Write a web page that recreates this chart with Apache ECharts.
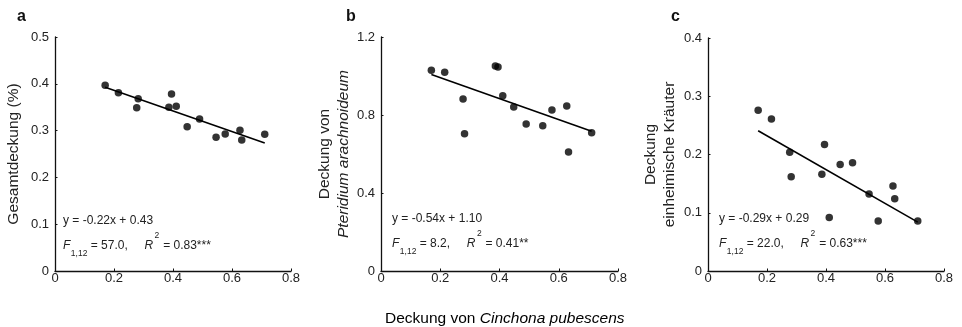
<!DOCTYPE html>
<html>
<head>
<meta charset="utf-8">
<script src="https://cdn.jsdelivr.net/npm/echarts@6/dist/echarts.min.js"></script>
<style>
  html, body { margin: 0; padding: 0; background: #fff; }
  #chart { width: 962px; height: 327px; }
</style>
</head>
<body>
<div id="chart"></div>
<script>
// Deckung von Cinchona pubescens (gleich fuer alle drei Teilbilder)
var cinchona = [0.17, 0.215, 0.277, 0.282, 0.386, 0.395, 0.411, 0.448, 0.49, 0.546, 0.577, 0.627, 0.633, 0.711];

// a: Gesamtdeckung
var gesamt = [0.397, 0.381, 0.349, 0.368, 0.350, 0.378, 0.352, 0.308, 0.325, 0.286, 0.293, 0.301, 0.280, 0.292];
// b: Pteridium arachnoideum
var pteridium = [1.029, 1.019, 0.882, 0.704, 1.051, 1.046, 0.899, 0.841, 0.754, 0.745, 0.826, 0.846, 0.610, 0.709];
// c: einheimische Kraeuter
var kraeuter = [0.276, 0.261, 0.204, 0.162, 0.166, 0.217, 0.092, 0.183, 0.186, 0.132, 0.086, 0.146, 0.124, 0.086];

// Regressionsgeraden (Steigung, Achsenabschnitt)
var fitA = [-0.22, 0.43];
var fitB = [-0.54, 1.10];
var fitC = [-0.29, 0.29];

var xTicks = [0, 0.2, 0.4, 0.6, 0.8];
var yMaxA = 0.5, yStepA = 0.1;
var yMaxB = 1.2, yStepB = 0.4;
var yMaxC = 0.4, yStepC = 0.1;

var FONT = '"Liberation Sans", Arial, sans-serif';
var TXT = '#222';

var measureCtx = document.createElement('canvas').getContext('2d');
function textWidth(str, font) {
    measureCtx.font = font;
    return measureCtx.measureText(str).width;
}

function pairs(xs, ys) {
    return xs.map(function (x, i) { return [x, ys[i]]; });
}

function fitLine(fit) {
    var x0 = Math.min.apply(null, cinchona);
    var x1 = Math.max.apply(null, cinchona);
    return [[x0, fit[0] * x0 + fit[1]], [x1, fit[0] * x1 + fit[1]]];
}

function xAxis(idx) {
    return {
        gridIndex: idx,
        type: 'value',
        min: xTicks[0],
        max: xTicks[xTicks.length - 1],
        interval: 0.2,
        splitLine: { show: false },
        axisLine: { onZero: false, lineStyle: { color: '#111', width: 1.3 } },
        axisTick: { inside: true, length: 2.5, lineStyle: { color: '#111' } },
        axisLabel: { color: TXT, fontSize: 13, fontFamily: FONT, margin: 1 }
    };
}

function yAxis(idx, max, step, name, gap) {
    return {
        gridIndex: idx,
        type: 'value',
        min: 0,
        max: max,
        interval: step,
        name: name,
        nameLocation: 'middle',
        nameGap: gap,
        nameTextStyle: {
            color: TXT, fontSize: 15.5, fontFamily: FONT, lineHeight: 19,
            rich: {
                n: { color: TXT, fontSize: 15.5, fontFamily: FONT, lineHeight: 19 },
                i: { color: TXT, fontSize: 15.5, fontFamily: FONT, fontStyle: 'italic', lineHeight: 19 }
            }
        },
        splitLine: { show: false },
        axisLine: { onZero: false, lineStyle: { color: '#111', width: 1.3 } },
        axisTick: { inside: true, length: 2.5, lineStyle: { color: '#111' } },
        axisLabel: { color: TXT, fontSize: 13, fontFamily: FONT, margin: 6 }
    };
}

function scatter(idx, ys) {
    return {
        type: 'scatter',
        xAxisIndex: idx,
        yAxisIndex: idx,
        data: pairs(cinchona, ys),
        symbolSize: 7.5,
        itemStyle: { color: '#000' },
        silent: true
    };
}

function line(idx, fit) {
    return {
        type: 'line',
        xAxisIndex: idx,
        yAxisIndex: idx,
        data: fitLine(fit),
        showSymbol: false,
        lineStyle: { color: '#000', width: 1.6 },
        silent: true
    };
}

// Gleichung und Statistik als Textstuecke (Index/Exponent einzeln gesetzt)
function stats(left, top, fit, f, r2, stars) {
    var main = '12px ' + FONT;
    var ital = 'italic 12px ' + FONT;
    var small = '8.5px ' + FONT;
    var sign = fit[1] >= 0 ? ' + ' : ' - ';
    var out = [{
        type: 'text', x: left, y: top,
        style: { text: 'y = ' + fit[0].toFixed(2) + 'x' + sign + Math.abs(fit[1]).toFixed(2), font: main, fill: TXT, textVerticalAlign: 'middle' }
    }];
    var y2 = top + 25;
    var pieces = [
        ['F', ital, 0, 0.5],
        ['1,12', small, 8, 0],
        [' = ' + f + ',     ', main, 0, 0],
        ['R', ital, 0, 1.5],
        ['2', small, -10, 0.5],
        [' = ' + r2 + stars, main, 0, 0]
    ];
    var x = left;
    pieces.forEach(function (p) {
        out.push({
            type: 'text', x: x, y: y2 + p[2],
            style: { text: p[0], font: p[1], fill: TXT, textVerticalAlign: 'middle' }
        });
        x += textWidth(p[0], p[1]) + p[3];
    });
    return out;
}

var chart = echarts.init(document.getElementById('chart'));

chart.setOption({
    backgroundColor: '#fff',
    animation: false,
    grid: [
        { left: 55, top: 37, width: 236, height: 234 },
        { left: 381, top: 37, width: 237, height: 234 },
        { left: 708, top: 38, width: 236, height: 233 }
    ],
    xAxis: [xAxis(0), xAxis(1), xAxis(2)],
    yAxis: [
        yAxis(0, yMaxA, yStepA, 'Gesamtdeckung (%)', 32),
        yAxis(1, yMaxB, yStepB, '{n|Deckung von}\n{i|Pteridium arachnoideum}', 27),
        yAxis(2, yMaxC, yStepC, '{n|Deckung}\n{n|einheimische Kräuter}', 29)
    ],
    series: [
        scatter(0, gesamt), line(0, fitA),
        scatter(1, pteridium), line(1, fitB),
        scatter(2, kraeuter), line(2, fitC)
    ],
    graphic: [
        { type: 'text', left: 17, top: 9, style: { text: 'a', font: 'bold 16px ' + FONT, fill: '#111' } },
        { type: 'text', left: 346, top: 9, style: { text: 'b', font: 'bold 16px ' + FONT, fill: '#111' } },
        { type: 'text', left: 671, top: 9, style: { text: 'c', font: 'bold 16px ' + FONT, fill: '#111' } },
        {
            type: 'text', left: 385, top: 311,
            style: {
                text: '{n|Deckung von }{i|Cinchona pubescens}',
                rich: {
                    n: { fontSize: 15.5, fontFamily: FONT, color: TXT },
                    i: { fontSize: 15.5, fontFamily: FONT, color: TXT, fontStyle: 'italic' }
                }
            }
        }
    ].concat(
        stats(63, 221, fitA, '57.0', '0.83', '***'),
        stats(392, 219, fitB, '8.2', '0.41', '**'),
        stats(719, 219, fitC, '22.0', '0.63', '***')
    )
});
</script>
</body>
</html>
